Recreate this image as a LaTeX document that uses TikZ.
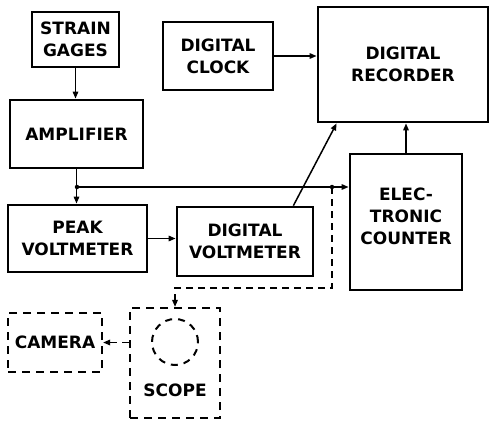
\documentclass[tikz,border=0pt]{standalone}
\usepackage{fontspec}
\setmainfont{DejaVu Sans}
\usetikzlibrary{arrows.meta,calc}
\tikzset{
  lbl/.style={font=\bfseries\fontsize{17}{22}\selectfont},
  blk/.style={draw, line width=2.8pt, inner sep=0pt, align=center, lbl},
  dblk/.style={blk, line width=2.2pt, dash pattern=on 8pt off 6pt},
  txt/.style={inner sep=0pt, align=center, lbl},
  arr/.style={line width=1.5pt, -{Triangle[length=7pt,width=5.5pt]}},
  darr/.style={arr, line width=1.6pt, dash pattern=on 7pt off 5pt},
  dot/.style={circle, fill, inner sep=0pt, minimum size=4.5pt}
}
\begin{document}
\begin{tikzpicture}[x=1pt,y=-1pt]
\useasboundingbox (0,0) rectangle (495,423);
\node[blk, minimum width=87pt, minimum height=55pt] (strain) at (75.5,39.5) {STRAIN\\GAGES};
\node[blk, minimum width=133pt, minimum height=68pt] (amp) at (76.5,134) {AMPLIFIER};
\node[blk, minimum width=110pt, minimum height=68pt] (clock) at (218,56) {DIGITAL\\CLOCK};
\node[blk, minimum width=170pt, minimum height=115pt] (rec) at (403,64.5) {DIGITAL\\RECORDER};
\node[blk, minimum width=112pt, minimum height=136pt] (counter) at (406,222) {};
\node[txt] (countertxt) at (406,216) {ELEC-\\TRONIC\\COUNTER};
\node[blk, minimum width=139pt, minimum height=67pt] (peak) at (77.5,238.5) {PEAK\\VOLTMETER};
\node[blk, minimum width=136pt, minimum height=69pt] (dvm) at (245,241.5) {DIGITAL\\VOLTMETER};
\node[dblk, minimum width=94pt, minimum height=59pt] (camera) at (55,342.5) {CAMERA};
\node[dblk, minimum width=90pt, minimum height=110pt] (scope) at (175,363) {};
\node[txt] (scopetxt) at (175,390) {SCOPE};
\node[draw, circle, line width=2pt, dash pattern=on 7pt off 6pt, minimum size=46pt, inner sep=0pt] (screen) at (175,342) {};

\coordinate (j1) at (77,187);
\coordinate (j2) at (332,187);
\coordinate (k1) at (332,288);
\coordinate (k2) at (175,288);

\draw[arr] (strain.south) -- (strain.south |- amp.north);
\draw[arr] (amp.south) -- (amp.south |- peak.north);
\draw[arr] (j1) -- (j1 -| counter.west);
\node[dot] at (j1) {};
\node[dot] at (j2) {};
\draw[darr] (j2) -- (k1) -- (k2) -- (scope.north);
\draw[arr] (peak.east) -- (peak.east -| dvm.west);
\draw[arr] ([xshift=-21pt]dvm.north east) -- ([xshift=20pt]rec.south west);
\draw[arr] (clock.east) -- (clock.east -| rec.west);
\draw[arr] (counter.north) -- (counter.north |- rec.south);
\draw[darr] (scope.west |- camera.east) -- (camera.east);
\end{tikzpicture}
\end{document}
